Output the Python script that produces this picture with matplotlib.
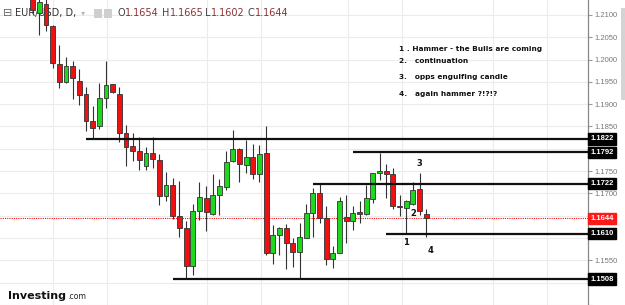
import numpy as np
import matplotlib
matplotlib.use("Agg")
import matplotlib.pyplot as plt
from matplotlib.patches import Rectangle
from matplotlib.transforms import blended_transform_factory

# daily EUR/USD candles, oldest first
opens = [1.2145, 1.2104, 1.2125, 1.2075, 1.1990, 1.1949, 1.1986, 1.1952, 1.1922, 1.1862,
         1.1850, 1.1915, 1.1945, 1.1922, 1.1835, 1.1807, 1.1795, 1.1762, 1.1790, 1.1776,
         1.1694, 1.1719, 1.1649, 1.1623, 1.1537, 1.1661, 1.1689, 1.1654, 1.1696, 1.1715,
         1.1773, 1.1799, 1.1764, 1.1782, 1.1743, 1.1790, 1.1566, 1.1607, 1.1622, 1.1588,
         1.1569, 1.1601, 1.1655, 1.1702, 1.1644, 1.1552, 1.1567, 1.1648, 1.1639, 1.1658,
         1.1653, 1.1687, 1.1746, 1.1750, 1.1743, 1.1672, 1.1667, 1.1676, 1.1709, 1.1654]
highs = [1.2152, 1.2140, 1.2138, 1.2078, 1.2033, 1.2006, 1.1997, 1.1978, 1.1939, 1.1896,
         1.1947, 1.1997, 1.1946, 1.1938, 1.1853, 1.1836, 1.1827, 1.1805, 1.1827, 1.1788,
         1.1747, 1.1734, 1.1728, 1.1638, 1.1676, 1.1725, 1.1717, 1.1743, 1.1732, 1.1795,
         1.1842, 1.1801, 1.1820, 1.1810, 1.1809, 1.1851, 1.1629, 1.1625, 1.1631, 1.1601,
         1.1634, 1.1676, 1.1713, 1.1723, 1.1672, 1.1581, 1.1693, 1.1696, 1.1672, 1.1683,
         1.1719, 1.1746, 1.1790, 1.1765, 1.1756, 1.1696, 1.1685, 1.1725, 1.1745, 1.1665]
lows = [1.2104, 1.2055, 1.2063, 1.1982, 1.1937, 1.1947, 1.1911, 1.1898, 1.1840, 1.1821,
        1.1844, 1.1891, 1.1925, 1.1816, 1.1761, 1.1773, 1.1752, 1.1752, 1.1757, 1.1674,
        1.1684, 1.1643, 1.1603, 1.1507, 1.1517, 1.1640, 1.1616, 1.1652, 1.1652, 1.1708,
        1.1771, 1.1726, 1.1745, 1.1732, 1.1726, 1.1562, 1.1542, 1.1562, 1.1530, 1.1536,
        1.1507, 1.1599, 1.1602, 1.1634, 1.1540, 1.1533, 1.1567, 1.1588, 1.1618, 1.1633,
        1.1652, 1.1678, 1.1730, 1.1689, 1.1664, 1.1649, 1.1609, 1.1674, 1.1652, 1.1602]
closes = [1.2111, 1.2129, 1.2078, 1.1992, 1.1949, 1.1986, 1.1958, 1.1921, 1.1862, 1.1847,
          1.1913, 1.1943, 1.1927, 1.1836, 1.1805, 1.1794, 1.1776, 1.1790, 1.1777, 1.1695,
          1.1719, 1.1649, 1.1622, 1.1537, 1.1661, 1.1691, 1.1659, 1.1696, 1.1717, 1.1771,
          1.1799, 1.1766, 1.1781, 1.1743, 1.1788, 1.1567, 1.1607, 1.1622, 1.1588, 1.1569,
          1.1602, 1.1655, 1.1702, 1.1644, 1.1552, 1.1567, 1.1683, 1.1639, 1.1655, 1.1654,
          1.1689, 1.1745, 1.1750, 1.1743, 1.1672, 1.1669, 1.1683, 1.1708, 1.1661, 1.1644]

# drawn support / resistance levels and the candle where each line starts
levels = [1.1822, 1.1792, 1.1722, 1.1610, 1.1508]
level_start = [8, 48, 42, 53, 21]
last_price = 1.1644

notes = ["1 . Hammer - the Bulls are coming", "2.   continuation",
         "3.   opps engulfing candle", "4.   again hammer ?!?!?"]
marks = ["1", "2", "3", "4"]
mark_at = [(56.0, 1.1589), (57.0, 1.1656), (57.9, 1.1766), (59.6, 1.1571)]

grid_x = [3.0, 11.1, 26.1, 34.2, 47.3, 55.4, 69.0, 77.1]

RED = "#ee1111"
GREEN = "#1ed81e"

fig = plt.figure(figsize=(6.25, 3.05), dpi=100)
fig.patch.set_facecolor("white")
ax = fig.add_axes([0, 0, 588 / 625, 1])
ax.set_xlim(-4.9, 83.25)
ax.set_ylim(1.14498, 1.21336)

# grid; labels hidden behind the level boxes are left blank
yt = np.round(np.arange(1.145, 1.2101, 0.005), 4)
hidden = [1.145, 1.15, 1.16, 1.165, 1.18]
ax.set_yticks(yt)
ax.set_yticklabels(["" if v in hidden else "%.4f" % v for v in yt])
ax.set_xticks([])
for v in yt:
    ax.axhline(v, color="#ececec", lw=0.8, zorder=0)
for gx in grid_x:
    ax.axvline(gx, color="#ececec", lw=0.8, zorder=0)

ax.yaxis.tick_right()
ax.tick_params(axis="y", length=3, color="#999999", labelcolor="#777777",
               labelsize=5.5, pad=2)
for lab in ax.get_yticklabels():
    lab.set_family("Liberation Sans")
for s in ["top", "left", "bottom"]:
    ax.spines[s].set_visible(False)
ax.spines["right"].set_color("#888888")
ax.spines["right"].set_linewidth(0.9)

# candles
x = np.arange(len(opens))
o = np.array(opens)
c = np.array(closes)
up = c >= o
cols = np.where(up, GREEN, RED)
ax.vlines(x, lows, highs, color="#333333", lw=0.8, zorder=3)
bottoms = np.minimum(o, c)
heights = np.maximum(np.abs(c - o), 0.00012)
ax.bar(x, heights, bottom=bottoms, width=0.72, color=cols,
       edgecolor="#333333", linewidth=0.6, zorder=4)

# levels
right = ax.get_xlim()[1]
ax.hlines(levels, level_start, right, color="#111111", lw=1.6, zorder=5)
ax.axhline(last_price, color=RED, lw=0.8, ls=(0, (1, 1)), zorder=2)

tr = blended_transform_factory(ax.transAxes, ax.transData)
for lv in levels:
    ax.text(1.004, lv, "%.4f" % lv, transform=tr, ha="left", va="center",
            fontsize=5.5, color="white", family="Liberation Sans", fontweight="bold",
            bbox=dict(boxstyle="square,pad=0.3", fc="black", ec="black"),
            clip_on=False, zorder=10)
ax.text(1.004, last_price, "%.4f" % last_price, transform=tr, ha="left", va="center",
        fontsize=5.5, color="white", family="Liberation Sans", fontweight="bold",
        bbox=dict(boxstyle="square,pad=0.3", fc="#ff1a1a", ec="#ff1a1a"),
        clip_on=False, zorder=10)

# notes
note_y = [49, 61, 77, 94]
for t, py in zip(notes, note_y):
    fig.text(399 / 625, 1 - py / 305, t, fontsize=5.3, fontweight="bold",
             family="DejaVu Sans", color="#111111", va="center", ha="left")
for m, (mx, my) in zip(marks, mark_at):
    ax.text(mx, my, m, fontsize=6, fontweight="bold", color="#111111",
            ha="center", va="center", zorder=6)

# header (candles are drawn over it)
axpx = ax.transAxes
def hdr(px, s, color, size=7):
    ax.text(px / 588, 1 - 13 / 305, s, transform=axpx, fontsize=size, color=color,
            va="center", ha="left", family="DejaVu Sans", zorder=1)
hdr(3, "\u229f", "#666666", 8)
hdr(15, "EUR/USD, D,", "#333333")
hdr(81, "\u25be", "#bbbbbb", 6)
hdr(118, "O", "#444444"); hdr(125, "1.1654", "#8a3535")
hdr(162, "H", "#444444"); hdr(170, "1.1665", "#8a3535")
hdr(205, "L", "#444444"); hdr(211, "1.1602", "#8a3535")
hdr(248, "C", "#444444"); hdr(255, "1.1644", "#8a3535")
for px0 in [94, 104]:
    fig.patches.append(Rectangle((px0 / 625, 1 - 18 / 305), 8 / 625, 9 / 305,
                                 transform=fig.transFigure, fc="#cfcfcf", ec="none"))

# scrollbar
fig.patches.append(Rectangle((621 / 625, 1 - 100 / 305), 4 / 625, 92 / 305,
                             transform=fig.transFigure, fc="#d4d4d4", ec="none"))

# logo
fig.text(8 / 625, 1 - 299 / 305, "Investing", fontsize=8, fontweight="bold",
         family="DejaVu Sans", color="#111111", va="baseline")
fig.text(67 / 625, 1 - 299 / 305, ".com", fontsize=5.6, family="DejaVu Sans",
         color="#222222", va="baseline")

fig.savefig("out.png", dpi=100)
